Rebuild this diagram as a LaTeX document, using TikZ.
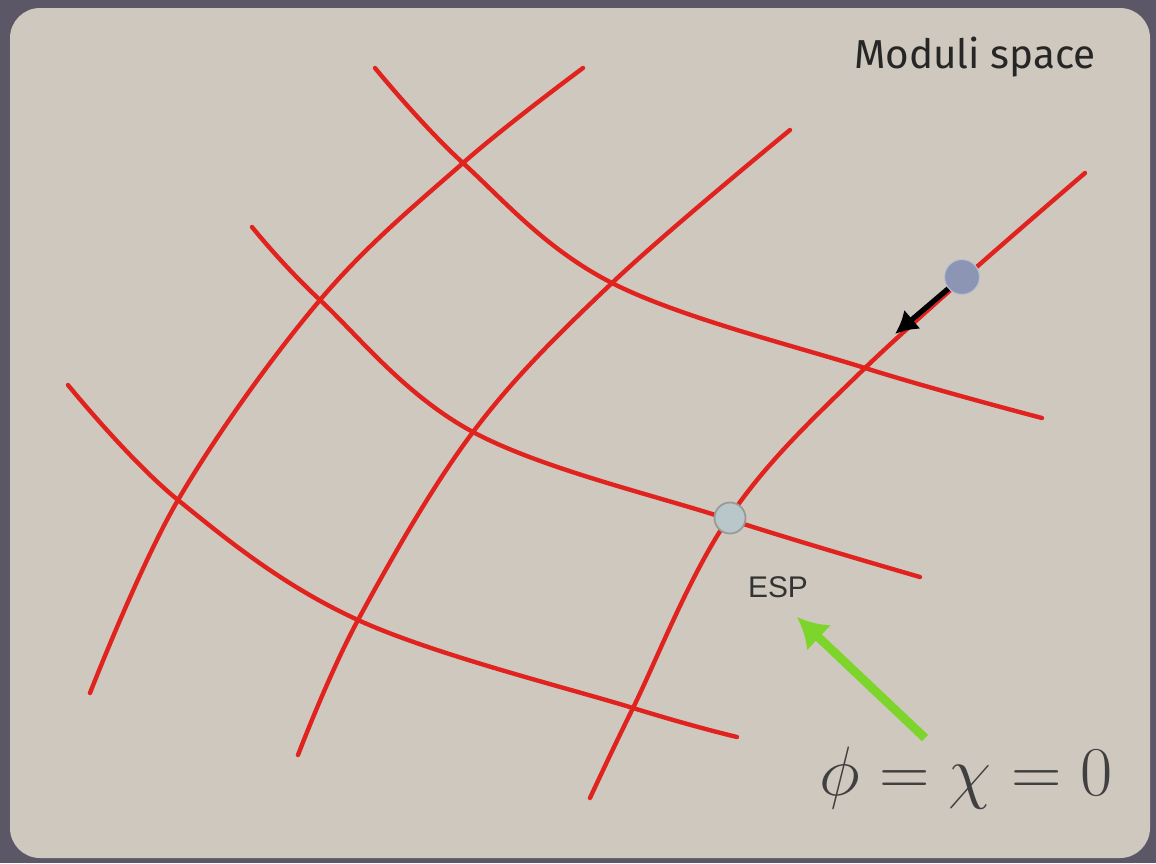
\documentclass[tikz,border=0pt]{standalone}
\usepackage{fontspec}
\usepackage{amsmath}
\usetikzlibrary{arrows.meta,positioning}
\newfontfamily\labelfont{Liberation Sans}
\newfontfamily\titlefont{Fira Sans}
\definecolor{frame}{HTML}{5C5766}
\definecolor{panel}{HTML}{CEC8BE}
\definecolor{gridred}{HTML}{E0231E}
\definecolor{dotblue}{HTML}{8C96B4}
\definecolor{esplight}{HTML}{B9C7CB}
\definecolor{arrgreen}{HTML}{7DD42A}

\begin{document}
\begin{tikzpicture}[
  x=0.02cm,y=-0.02cm,
  gridline/.style={gridred,line width=2.5pt,line cap=round},
  dot/.style={circle,inner sep=0pt,minimum size=0.7cm},
  arr/.style={-{Latex[length=4.5mm,width=5mm]},line width=3pt},
  garr/.style={-{Latex[length=6mm,width=7mm]},line width=5pt,arrgreen}
]
  % background
  \fill[frame] (0,0) rectangle (1156,863);
  \fill[panel,rounded corners=0.6cm] (10,8) rectangle (1150,858);
  \useasboundingbox (0,0) rectangle (1156,863);

  % grid lines, lower left to upper right
  \draw[gridline] plot[smooth,tension=0.6] coordinates {(90,693) (178,500) (320,300) (463,163) (583,68)};
  \draw[gridline] plot[smooth,tension=0.6] coordinates {(298,755) (358,620) (473,432) (612,283) (790,130)};
  \draw[gridline] plot[smooth,tension=0.6] coordinates {(590,798) (633,708) (728,519) (865,368) (1085,173)};
  % grid lines, upper left to lower right
  \draw[gridline] plot[smooth,tension=0.6] coordinates {(375,68) (463,163) (612,283) (865,368) (1042,418)};
  \draw[gridline] plot[smooth,tension=0.6] coordinates {(252,227) (320,300) (473,432) (728,519) (920,577)};
  \draw[gridline] plot[smooth,tension=0.6] coordinates {(68,385) (178,500) (358,620) (633,708) (737,737)};

  % points
  \node[dot,fill=dotblue,draw=dotblue!60!white,line width=0.6pt] (start) at (962,277) {};
  \node[dot,minimum size=0.62cm,fill=esplight,draw=gray!80,line width=1pt] (esp) at (730,518) {};
  \coordinate (flowend) at (895,334);
  \draw[arr] (start) -- (flowend);

  % labels
  \node[font=\labelfont\fontsize{17}{20}\selectfont,text=black!80] (esplabel) at (778,587) {ESP};
  \node[font=\titlefont\fontsize{23}{27}\selectfont,text=black!85] (title) at (975,57) {Moduli space};
  \node[text=black!75,scale=1.6] (cond) at (966,778) {\fontsize{24.88}{30}\selectfont$\phi=\chi=0$};
  \coordinate (gtail) at (925,738);
  \coordinate (ghead) at (797,617);
  \draw[garr] (gtail) -- (ghead);
\end{tikzpicture}
\end{document}
